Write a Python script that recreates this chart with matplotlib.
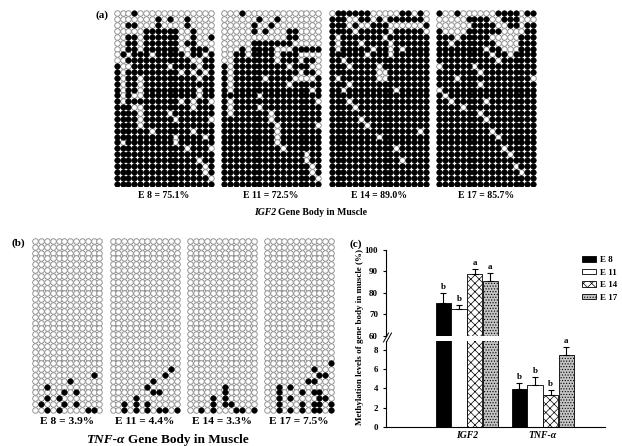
import matplotlib.pyplot as plt
import numpy as np
from matplotlib.patches import Patch
from matplotlib.lines import Line2D

plt.rcParams['font.family'] = ['Liberation Serif', 'DejaVu Serif']
plt.rcParams['font.weight'] = 'bold'
plt.rcParams['hatch.linewidth'] = 0.5

# IGF2 gene body, bisulfite clones (rows) x CpG sites (cols); '#' methylated, 'o' unmethylated
igf2_e8 = [
    "ooo#ooooooooooooo", "ooooooo#o#oo#oooo", "oo##ooo#oooo#oooo", "ooooo######oo#ooo",
    "oo##o######oo#oo#", "oo##o######o##ooo", "oo##o######oo###o", "o#o###o#####o##o#",
    "oo###########oo##", "#oo######o####o##", "#o#########o#o#o#", "#o##o#########o##",
    "#o##o############", "#o##o#########o##", "#o#oo#########o##", "#o#########o#o##o",
    "###oo########o###", "####o####o#######", "####o#####o#####o", "####o############",
    "######o######o###", "##########o####o#", "#o########o######", "############o###o",
    "#################", "##############o##", "###############o#", "###############o#",
    "################o", "#################",
]
igf2_e11 = [
    "ooo#ooooooooooooo", "oooooo#oo#ooooooo", "ooooo#oo#oooooooo", "ooooo#o#ooo##oooo",
    "ooooooooooo##oooo", "ooooo#######ooooo", "ooo#o####ooo#####", "oo##o####o###oooo",
    "oo#######o###o##o", "#o#########o###oo", "#o###########o##o", "#o#####o####oooo#",
    "#o#########o#####", "#o#############o#", "######o##########", "#o##############o",
    "#o####o##########", "#o######o########", "########o########", "#########o######o",
    "#########o#######", "#########o#######", "#########o#######", "##########o######",
    "##############o##", "##############o##", "###############o#", "###############o#",
    "################o", "#################",
]
igf2_e14 = [
    "o######ooooo##o#o", "###oo##o#o######o", "###o#oo###oooooo#", "####o#####o#####o",
    "#o#######o#######", "#o###o####o######", "#o#####o##o#o####", "######o###o######",
    "##o##############", "###o####o########", "########oo#######", "#o######oo#######",
    "###o#############", "##o########o#####", "#################", "###o#############",
    "####o############", "#################", "#####o###########", "######o##########",
    "###############o#", "########o########", "#################", "###########o#####",
    "#################", "############o####", "#################", "#################",
    "#################", "#################",
]
igf2_e17 = [
    "#oo#oooooo####o##", "ooooo####oo###ooo", "oooooo####oo##o##", "#oooo######oooo##",
    "###o#####ooooo###", "##o#######oooo###", "########o##ooo###", "#########o##o####",
    "##########o######", "o#####o##########", "#######o#########", "###o############o",
    "#######o#########", "o################", "#o###############", "##o#####o########",
    "####o############", "#######o#########", "########o########", "#################",
    "#########o#######", "##########o######", "#################", "###########o#####",
    "############o####", "#################", "#############o###", "##############o##",
    "#################", "#################",
]
igf2_labels = ["E 8 = 75.1%", "E 11 = 72.5%", "E 14 = 89.0%", "E 17 = 85.7%"]

# TNF-a gene body, 30 clones x 12 CpG sites; methylated sites listed as (clone, site)
tnf_rows, tnf_cols = 30, 12
tnf_e8 = [(23, 10), (24, 6), (25, 2), (26, 5), (26, 7), (27, 2), (27, 4),
          (28, 1), (28, 5), (28, 7), (29, 2), (29, 4), (29, 9), (29, 10)]
tnf_e11 = [(22, 10), (23, 9), (24, 7), (25, 6), (26, 7), (26, 8), (27, 4), (28, 2),
           (28, 4), (28, 6), (29, 2), (29, 4), (29, 6), (29, 8), (29, 9), (29, 11)]
tnf_e14 = [(25, 6), (26, 6), (27, 4), (27, 6), (28, 4), (28, 6), (28, 7),
           (29, 2), (29, 4), (29, 8), (29, 9), (29, 11)]
tnf_e17 = [(21, 11), (22, 8), (23, 9), (23, 10), (24, 7), (24, 8), (25, 2), (25, 4),
           (26, 2), (26, 6), (26, 8), (26, 9), (27, 2), (27, 4), (27, 9), (27, 10),
           (28, 2), (28, 6), (28, 8), (28, 9), (28, 11),
           (29, 2), (29, 4), (29, 6), (29, 8), (29, 9), (29, 11)]
tnf_labels = ["E 8 = 3.9%", "E 11 = 4.4%", "E 14 = 3.3%", "E 17 = 7.5%"]

# mean methylation (%) with SE, panel (c)
stages = ["E 8", "E 11", "E 14", "E 17"]
genes = ["IGF2", "TNF-α"]
igf2_mean = [75.1, 72.5, 89.0, 85.7]
igf2_err = [4.9, 1.8, 2.0, 3.5]
tnf_mean = [3.9, 4.4, 3.3, 7.5]
tnf_err = [0.7, 0.8, 0.55, 0.8]
igf2_letters = ["b", "b", "a", "a"]
tnf_letters = ["b", "b", "b", "a"]

W, H = 622, 446
fig = plt.figure(figsize=(W / 100, H / 100), dpi=100)


def box(x0, y0, w, h):
    # pixel box (top-left origin) -> figure fraction rect
    return [x0 / W, 1 - (y0 + h) / H, w / W, h / H]


def lollipop(ax, filled, nrow, ncol):
    rr, cc = np.mgrid[0:nrow, 0:ncol]
    ax.scatter(cc[~filled], rr[~filled], s=16, facecolor='white', edgecolor='#8c8c8c', linewidth=0.65)
    ax.scatter(cc[filled], rr[filled], s=16, facecolor='black', edgecolor='black', linewidth=0.4)
    ax.set_xlim(-0.5, ncol - 0.5)
    ax.set_ylim(nrow - 0.5, -0.5)
    ax.axis('off')


# (a) IGF2
sp = 5.87
for k, (grid, lab) in enumerate(zip([igf2_e8, igf2_e11, igf2_e14, igf2_e17], igf2_labels)):
    filled = np.array([[ch == '#' for ch in row] for row in grid])
    nrow, ncol = filled.shape
    x0 = 116.7 + k * 107.5 - sp / 2
    ax = fig.add_axes(box(x0, 13.3 - sp / 2, ncol * sp, nrow * sp))
    lollipop(ax, filled, nrow, ncol)
    fig.text((x0 + ncol * sp / 2) / W, 1 - 195 / H, lab, ha='center', va='center', fontsize=7)

fig.text(102 / W, 1 - 15.5 / H, "(a)", ha='center', va='center', fontsize=8)
fig.text(276 / W, 1 - 213 / H, "IGF2", ha='right', va='center', fontsize=7, style='italic')
fig.text(278.5 / W, 1 - 213 / H, "Gene Body in Muscle", ha='left', va='center', fontsize=7)

# (b) TNF-a
sp = 5.83
for k, (sites, lab) in enumerate(zip([tnf_e8, tnf_e11, tnf_e14, tnf_e17], tnf_labels)):
    filled = np.zeros((tnf_rows, tnf_cols), dtype=bool)
    for r, c in sites:
        filled[r, c] = True
    x0 = 35.3 + k * 77.2 - sp / 2
    ax = fig.add_axes(box(x0, 240.9 - sp / 2, tnf_cols * sp, tnf_rows * sp))
    lollipop(ax, filled, tnf_rows, tnf_cols)
    fig.text((x0 + tnf_cols * sp / 2) / W, 1 - 421.5 / H, lab, ha='center', va='center', fontsize=8.2)

fig.text(18.5 / W, 1 - 243 / H, "(b)", ha='center', va='center', fontsize=8)
fig.text(124 / W, 1 - 440 / H, "TNF-α", ha='right', va='center', fontsize=9.5, style='italic')
fig.text(128 / W, 1 - 440 / H, "Gene Body in Muscle", ha='left', va='center', fontsize=9.5)

# (c) bar chart with broken y axis
fig.text(356 / W, 1 - 244 / H, "(c)", ha='center', va='center', fontsize=8)
ax_top = fig.add_axes(box(385.7, 250, 219.3, 85.7))
ax_bot = fig.add_axes(box(385.7, 340.5, 219.3, 86.2))

faces = ['black', 'white', 'white', '#c4c4c4']
hatches = [None, None, 'xxxx', '......']
offs = (np.arange(4) - 1.5) * 0.205
xg = np.arange(len(genes))

for i in range(4):
    kw = dict(width=0.2, facecolor=faces[i], edgecolor='black', linewidth=0.6, hatch=hatches[i])
    ax_top.bar(xg[0] + offs[i], igf2_mean[i] - 60, bottom=60, **kw)
    ax_bot.bar(xg[0] + offs[i], igf2_mean[i], **kw)
    ax_bot.bar(xg[1] + offs[i], tnf_mean[i], **kw)

eb = dict(fmt='none', ecolor='black', elinewidth=0.8, capsize=2.5, capthick=0.8)
ax_top.errorbar(xg[0] + offs, igf2_mean, yerr=[np.zeros(4), igf2_err], **eb)
ax_bot.errorbar(xg[1] + offs, tnf_mean, yerr=[np.zeros(4), tnf_err], **eb)

for i in range(4):
    ax_top.text(xg[0] + offs[i], igf2_mean[i] + igf2_err[i] + 1.0, igf2_letters[i],
                ha='center', va='bottom', fontsize=6.5)
    ax_bot.text(xg[1] + offs[i], tnf_mean[i] + tnf_err[i] + 0.2, tnf_letters[i],
                ha='center', va='bottom', fontsize=6.5)

for ax in (ax_top, ax_bot):
    ax.set_xlim(-1.066, 1.818)
    ax.spines['top'].set_visible(False)
    ax.spines['right'].set_visible(False)
    ax.tick_params(axis='y', direction='out', length=2.5, width=0.8, pad=3, labelsize=6.5)
    ax.spines['left'].set_linewidth(0.8)

ax_top.set_ylim(60, 100)
ax_top.set_yticks([60, 70, 80, 90, 100])
ax_top.spines['bottom'].set_visible(False)
ax_top.set_xticks([])

ax_bot.set_ylim(0, 9.0)
ax_bot.set_yticks([0, 2, 4, 6, 8])
ax_bot.spines['bottom'].set_linewidth(0.8)
ax_bot.set_xticks(xg)
ax_bot.set_xticklabels(genes, style='italic', fontsize=7)
ax_bot.tick_params(axis='x', length=0, pad=3)

# break marks on the y axis
for dx in (0, 3):
    fig.add_artist(Line2D([(383.5 + dx) / W, (388.5 + dx) / W], [1 - 342 / H, 1 - 333 / H],
                          color='black', linewidth=0.7))

fig.text(360 / W, 1 - 337 / H, "Methylation levels of gene body in muscle (%)",
         rotation=90, ha='center', va='center', fontsize=6.5)

handles = [Patch(facecolor=faces[i], edgecolor='black', linewidth=0.6, hatch=hatches[i]) for i in range(4)]
fig.legend(handles, stages, loc='upper left', bbox_to_anchor=(582 / W, 1 - 256 / H),
           frameon=False, fontsize=6.5, handlelength=1.6, handleheight=0.6,
           labelspacing=0.5, handletextpad=0.35, borderaxespad=0, borderpad=0)

fig.savefig('out.png', dpi=100)
